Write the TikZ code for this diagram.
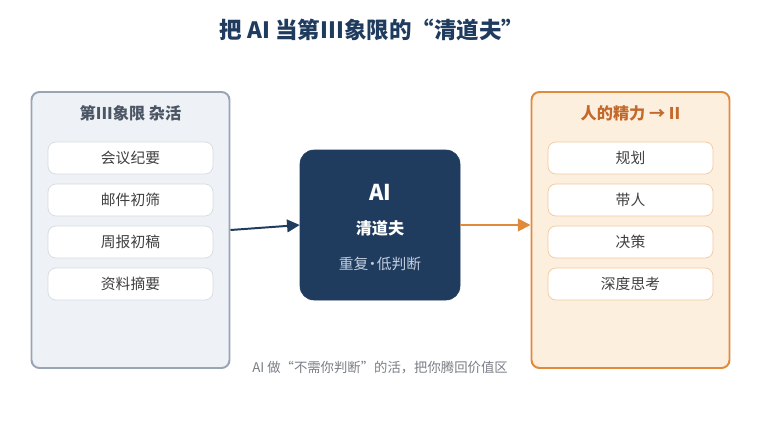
\documentclass[tikz,border=0pt]{standalone}
\usepackage{fontspec}
\setmainfont{Noto Sans CJK SC}
\usetikzlibrary{arrows.meta}
\definecolor{navy}{HTML}{1F3B5E}
\definecolor{panelgray}{HTML}{EEF2F6}
\definecolor{bordergray}{HTML}{9AA5B3}
\definecolor{titlegray}{HTML}{4B5563}
\definecolor{peach}{HTML}{FCEFDD}
\definecolor{orangeline}{HTML}{E08A3C}
\definecolor{titleorange}{HTML}{C2692B}
\definecolor{itemgray}{HTML}{D5DBE1}
\definecolor{itemorange}{HTML}{F1C9A1}
\definecolor{subblue}{HTML}{C3CFE0}
\definecolor{notegray}{HTML}{7A7F86}
\tikzset{
	panel/.style={rounded corners=0.2cm, line width=1.4pt, minimum width=4.95cm, minimum height=6.9cm},
	item/.style={rounded corners=0.2cm, fill=white, line width=0.5pt, minimum width=4.125cm, minimum height=0.8cm, font=\fontsize{10.5}{12}\selectfont, text=black!75},
	paneltitle/.style={font=\fontsize{11.5}{14}\selectfont\bfseries},
}

\begin{document}
\begin{tikzpicture}
			%%%%% START %%%%%
			\useasboundingbox[fill=white] (0, 0) rectangle (19, 10.5);
			
			\node[font=\fontsize{16}{19}\selectfont\bfseries, text=navy] (title) at (9.3, 9.75) {把 AI 当第III象限的“清道夫”};
			
			% left panel
			\node[panel, draw=bordergray, fill=panelgray] (chores) at (3.2625, 4.75) {};
			\node[paneltitle, text=titlegray] (chorestitle) at (3.2625, 7.675) {第III象限 杂活};
			\node[item, draw=itemgray] (minutes) at (3.2625, 6.55) {会议纪要};
			\node[item, draw=itemgray] (mail) at (3.2625, 5.5) {邮件初筛};
			\node[item, draw=itemgray] (weekly) at (3.2625, 4.45) {周报初稿};
			\node[item, draw=itemgray] (digest) at (3.2625, 3.4) {资料摘要};
			
			% right panel
			\node[panel, draw=orangeline, fill=peach] (focus) at (15.7625, 4.75) {};
			\node[paneltitle, text=titleorange] (focustitle) at (15.7625, 7.675) {人的精力 → II};
			\node[item, draw=itemorange] (plan) at (15.7625, 6.55) {规划};
			\node[item, draw=itemorange] (lead) at (15.7625, 5.5) {带人};
			\node[item, draw=itemorange] (decide) at (15.7625, 4.45) {决策};
			\node[item, draw=itemorange] (think) at (15.7625, 3.4) {深度思考};
			
			% sweeper box
			\node[rounded corners=0.35cm, fill=navy, draw=navy, minimum width=4cm, minimum height=3.75cm] (ai) at (9.5, 4.875) {};
			\node[font=\fontsize{15.5}{18}\selectfont\bfseries, text=white] (ailabel) at (9.5, 5.7) {AI};
			\node[font=\fontsize{11.5}{14}\selectfont\bfseries, text=white] (sweeper) at (9.5, 4.8) {清道夫};
			\node[font=\fontsize{10.5}{13}\selectfont, text=subblue] (traits) at (9.5, 3.9) {重复\hspace{-0.22em}·\hspace{-0.22em}低判断};
			
			\draw[-{Triangle[length=9pt, width=9pt]}, line width=1.4pt, navy] (chores.east) -- (ai.west);
			\draw[-{Triangle[length=9pt, width=9pt]}, line width=1.4pt, orangeline] (ai.east) -- (ai.east -| focus.west);
			
			\node[font=\fontsize{9.5}{12}\selectfont, text=notegray] (note) at (9.5, 1.3) {AI 做“不需你判断”的活，把你腾回价值区};
			%%%%% END %%%%%
\end{tikzpicture}
\end{document}
